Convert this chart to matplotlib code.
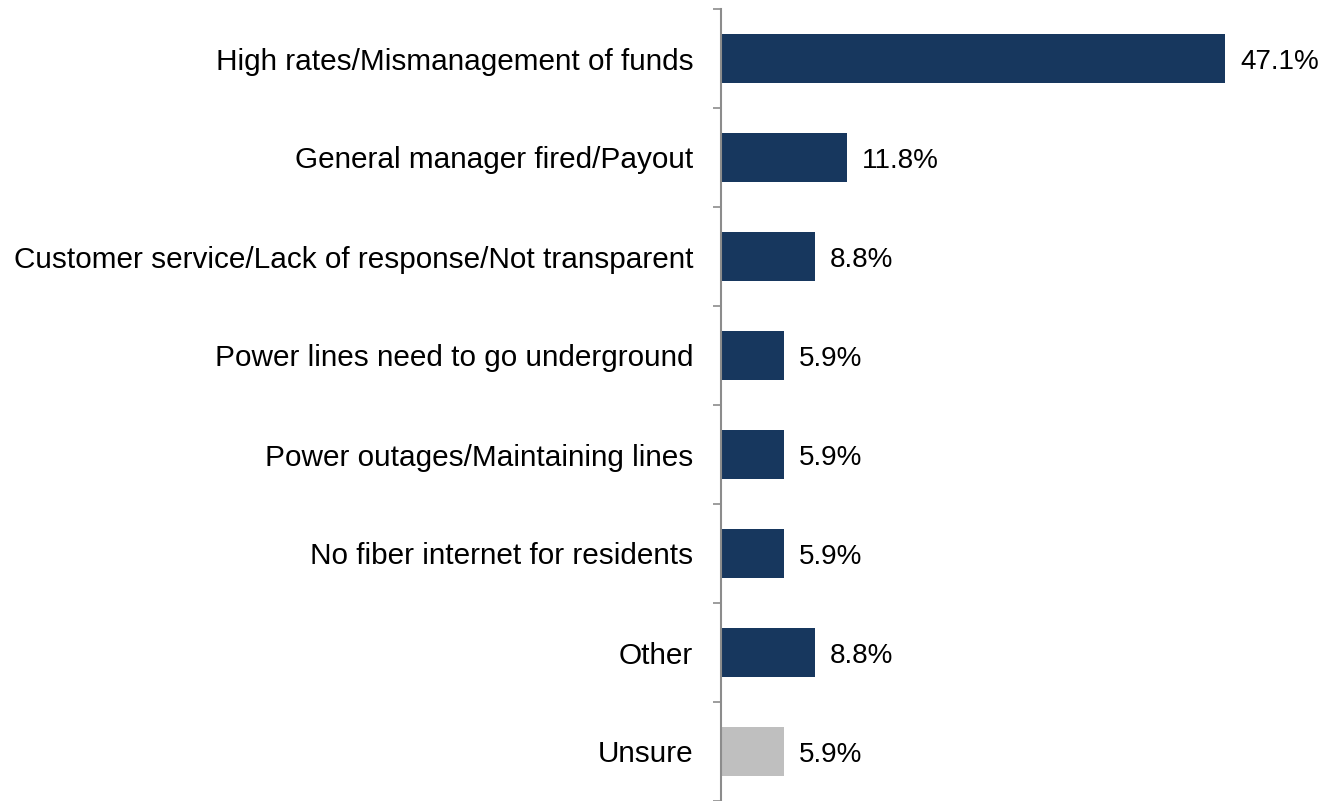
import matplotlib
matplotlib.use("Agg")
import matplotlib.pyplot as plt
import numpy as np

categories = [
    "High rates/Mismanagement of funds",
    "General manager fired/Payout",
    "Customer service/Lack of response/Not transparent",
    "Power lines need to go underground",
    "Power outages/Maintaining lines",
    "No fiber internet for residents",
    "Other",
    "Unsure",
]
values = [47.1, 11.8, 8.8, 5.9, 5.9, 5.9, 8.8, 5.9]
labels = ["47.1%", "11.8%", "8.8%", "5.9%", "5.9%", "5.9%", "8.8%", "5.9%"]
colors = ["#17375E"] * 7 + ["#BFBFBF"]

plt.rcParams['font.family'] = ['Liberation Sans', 'DejaVu Sans']

W, H = 1322, 801
fig = plt.figure(figsize=(W / 100, H / 100), dpi=100)
ax_left = 721 / W
ax = fig.add_axes([ax_left, 0, 1 - ax_left, 792 / H])

n = len(categories)
y = np.arange(n)
ax.barh(y, values, height=0.5, color=colors, zorder=2)
ax.set_ylim(n - 0.5, -0.5)
ax.set_xlim(0, (W - 721) / 10.7)

for yi, v, lab in zip(y, values, labels):
    ax.text(v + 1.4, yi + 0.04, lab, va='center', ha='left', fontsize=20, color='black')

ax.set_yticks(y)
ax.set_yticklabels(categories, fontsize=21.4)
ax.tick_params(axis='y', which='major', length=0, pad=20)
ax.set_yticks(np.arange(-0.5, n + 0.5, 1), minor=True)
ax.tick_params(axis='y', which='minor', length=6, width=1.2, color='#8C8C8C', direction='out')
ax.set_xticks([])

for s in ['top', 'right', 'bottom']:
    ax.spines[s].set_visible(False)
ax.spines['left'].set_color('#8C8C8C')
ax.spines['left'].set_linewidth(1.5)

fig.savefig("out.png", dpi=100)
